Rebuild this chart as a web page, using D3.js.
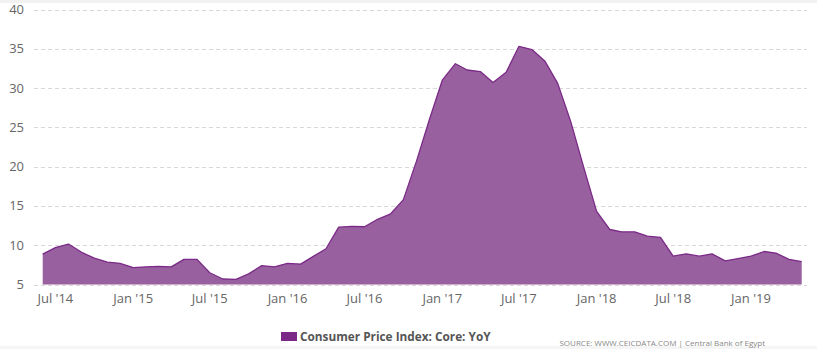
<!DOCTYPE html>
<html>
<head>
<meta charset="utf-8">
<script src="https://cdn.jsdelivr.net/npm/d3@7"></script>
<style>
  html, body { margin: 0; padding: 0; background: #fff; }
  svg { display: block; }
  text { font-family: "Open Sans", "Noto Sans", sans-serif; }
</style>
</head>
<body>
<svg id="chart" width="817" height="349"></svg>
<script>
// ---- data ----
const startMonth = "2014-06";
const values = [
  8.87, 9.7, 10.15, 9.1, 8.35, 7.85, 7.7,          // Jun14 - Dec14
  7.15, 7.25, 7.3, 7.25, 8.2, 8.2, 6.5, 5.7, 5.65, 6.35, 7.4, 7.25, // 2015
  7.7, 7.6, 8.55, 9.55, 12.3, 12.4, 12.35, 13.3, 14.0, 15.8, 20.7, 25.9, // 2016
  31.0, 33.1, 32.3, 32.1, 30.7, 32.0, 35.3, 34.9, 33.4, 30.6, 25.7, 20.0, // 2017
  14.3, 12.0, 11.7, 11.7, 11.15, 11.0, 8.6, 8.9, 8.6, 8.9, 8.0, 8.3, // 2018
  8.6, 9.2, 9.0, 8.2, 7.9                           // Jan19 - May19
];
const yTicks = [5, 10, 15, 20, 25, 30, 35, 40];
const xTickLabels = ["Jul '14", "Jan '15", "Jul '15", "Jan '16", "Jul '16", "Jan '17", "Jul '17", "Jan '18", "Jul '18", "Jan '19"];
const xTickMonths = ["2014-07", "2015-01", "2015-07", "2016-01", "2016-07", "2017-01", "2017-07", "2018-01", "2018-07", "2019-01"];
const seriesName = "Consumer Price Index: Core: YoY";
const sourceText = "SOURCE: WWW.CEICDATA.COM | Central Bank of Egypt";

// ---- build ----
const parseMonth = d3.timeParse("%Y-%m");
const start = parseMonth(startMonth);
const data = values.map((v, i) => ({ date: d3.timeMonth.offset(start, i), value: v }));

const svg = d3.select("#chart");

// top light band and bottom border
svg.append("rect").attr("x", 0).attr("y", 0).attr("width", 817).attr("height", 3).attr("fill", "#f2f2f2");
svg.append("rect").attr("x", 0).attr("y", 346).attr("width", 817).attr("height", 3).attr("fill", "#f5f5f5");

const x = d3.scaleTime()
  .domain([data[0].date, data[data.length - 1].date])
  .range([42.7, 801.7]);
const y = d3.scaleLinear().domain([5, 40]).range([284.5, 9.5]);

const gridLeft = 34, gridRight = 807;

// gridlines
svg.append("g").selectAll("line").data(yTicks).join("line")
  .attr("x1", gridLeft).attr("x2", gridRight)
  .attr("y1", d => Math.round(y(d)) + 0.5).attr("y2", d => Math.round(y(d)) + 0.5)
  .attr("stroke", "#d8d8d8").attr("stroke-width", 1).attr("stroke-dasharray", "4,3");

// y labels
svg.append("g").selectAll("text").data(yTicks).join("text")
  .attr("x", 24).attr("y", d => y(d) + 4.5)
  .attr("text-anchor", "end")
  .attr("font-size", 13).attr("fill", "#666")
  .text(d => d);

// area
const area = d3.area().x(d => x(d.date)).y0(y(5)).y1(d => y(d.value));
const line = d3.line().x(d => x(d.date)).y(d => y(d.value));
svg.append("path").datum(data).attr("d", area).attr("fill", "#9960a0");
svg.append("path").datum(data).attr("d", line)
  .attr("fill", "none").attr("stroke", "#7a2a86").attr("stroke-width", 1.3).attr("stroke-linejoin", "round");

// x labels
const xTicks = xTickMonths.map((m, i) => ({ date: parseMonth(m), label: xTickLabels[i] }));
svg.append("g").selectAll("text").data(xTicks).join("text")
  .attr("x", d => x(d.date)).attr("y", 303)
  .attr("text-anchor", "middle")
  .attr("font-size", 13).attr("fill", "#666")
  .text(d => d.label);

// legend
svg.append("rect").attr("x", 281).attr("y", 332).attr("width", 16).attr("height", 9).attr("fill", "#7a2a86");
svg.append("text").attr("x", 300).attr("y", 341)
  .attr("font-size", 11.8).attr("font-weight", "bold").attr("fill", "#555")
  .text(seriesName);

// source
svg.append("text").attr("x", 765).attr("y", 346)
  .attr("text-anchor", "end").attr("font-size", 8).attr("fill", "#888")
  .text(sourceText);
</script>
</body>
</html>
